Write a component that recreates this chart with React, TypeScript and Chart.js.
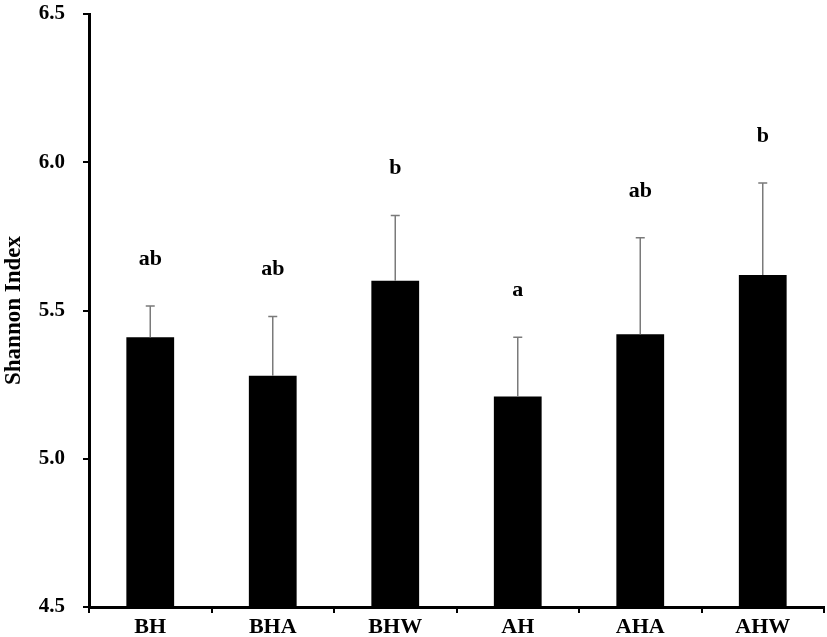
import React, { useEffect, useRef } from "react";
import { Chart, registerables } from "chart.js";

Chart.register(...registerables);

const categories = ["BH", "BHA", "BHW", "AH", "AHA", "AHW"];
const means = [5.41, 5.28, 5.6, 5.21, 5.42, 5.62];
const errors = [0.105, 0.2, 0.22, 0.2, 0.325, 0.31];
const letters = ["ab", "ab", "b", "a", "ab", "b"];
const yTicks = [4.5, 5.0, 5.5, 6.0, 6.5];

const FONT = "'Liberation Serif', 'Times New Roman', serif";

const errorPlugin = {
  id: "errLetters",
  afterDatasetsDraw(chart: any) {
    const ctx = chart.ctx;
    const meta = chart.getDatasetMeta(0);
    const yScale = chart.scales.y;
    ctx.save();
    meta.data.forEach((bar: any, i: number) => {
      const x = bar.x;
      const yBar = yScale.getPixelForValue(means[i]);
      const yTop = yScale.getPixelForValue(means[i] + errors[i]);
      ctx.strokeStyle = "#7a7a7a";
      ctx.lineWidth = 1.5;
      ctx.beginPath();
      ctx.moveTo(x, yBar);
      ctx.lineTo(x, yTop);
      ctx.moveTo(x - 4.5, yTop);
      ctx.lineTo(x + 4.5, yTop);
      ctx.stroke();
      ctx.fillStyle = "#000";
      ctx.font = `bold 22px ${FONT}`;
      ctx.textAlign = "center";
      ctx.textBaseline = "middle";
      ctx.fillText(letters[i], x, yTop - 47);
    });
    ctx.restore();
  },
};

export default function App() {
  const ref = useRef<HTMLCanvasElement>(null);
  useEffect(() => {
    document.body.style.margin = "0";
    const chart = new Chart(ref.current!, {
      type: "bar",
      data: {
        labels: categories,
        datasets: [
          {
            data: means,
            backgroundColor: "#000",
            borderWidth: 0,
            barPercentage: 0.39,
            categoryPercentage: 1,
          },
        ],
      },
      options: {
        responsive: false,
        animation: false,
        layout: { padding: { top: 0, right: 3, left: 0, bottom: 0 } },
        plugins: { legend: { display: false }, tooltip: { enabled: false } },
        scales: {
          x: {
            grid: {
              display: true,
              drawOnChartArea: false,
              drawTicks: true,
              tickLength: 6,
              color: "#000",
              lineWidth: 2,
              offset: true,
            },
            border: { display: true, color: "#000", width: 3 },
            ticks: {
              color: "#000",
              font: { family: FONT, size: 22, weight: "bold" },
              padding: 1,
            },
            afterFit: (s: any) => {
              s.height = 30;
            },
          },
          y: {
            min: 4.5,
            max: 6.5,
            afterBuildTicks: (s: any) => {
              s.ticks = yTicks.map((v) => ({ value: v }));
            },
            grid: {
              display: true,
              drawOnChartArea: false,
              drawTicks: true,
              tickLength: 6,
              color: "#000",
              lineWidth: 2,
            },
            border: { display: true, color: "#000", width: 3 },
            ticks: {
              color: "#000",
              font: { family: FONT, size: 21, weight: "bold" },
              padding: 18,
              callback: (v: any) => Number(v).toFixed(1),
            },
            title: {
              display: true,
              text: "Shannon Index",
              color: "#000",
              font: { family: FONT, size: 23, weight: "bold" },
              padding: { top: 0, bottom: 0 },
            },
            afterFit: (s: any) => {
              s.width = 89;
              s.paddingTop = 14;
              s.paddingBottom = 0;
            },
          },
        },
      },
      plugins: [errorPlugin],
    });
    return () => chart.destroy();
  }, []);
  return <canvas ref={ref} width={827} height={637} style={{ display: "block" }} />;
}
